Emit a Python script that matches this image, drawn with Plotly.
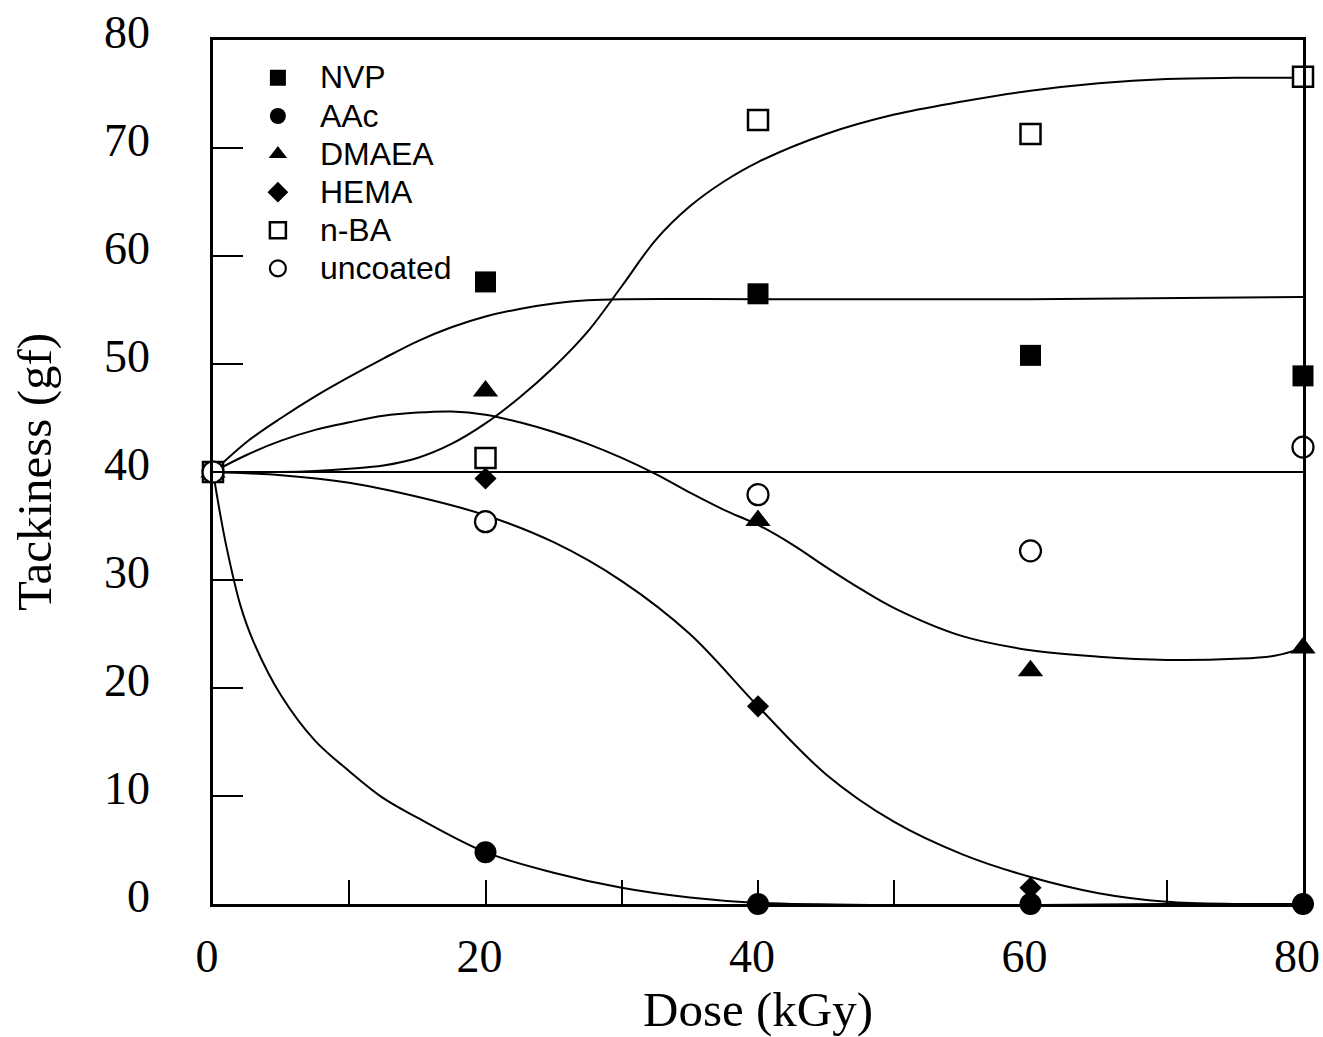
import plotly.graph_objects as go

# ---- measured data points ----
dose = [0, 20, 40, 60, 80]
nvp = [40, 57.6, 56.5, 50.8, 48.9]
aac = [40, 4.8, 0, 0, 0]
dmaea = [40, 47.5, 35.5, 21.6, 23.7]
hema = [40, 39.4, 18.3, 1.5, 0]
nba = [40, 41.3, 72.6, 71.3, 76.6]
uncoated = [40, 35.4, 37.9, 32.7, 42.3]

# ---- fitted curves ----
nvp_fit_x = [0, 2.5, 5, 7.5, 10, 12.5, 15, 17.5, 20, 22.5, 25, 27.5, 30, 40, 60, 80]
nvp_fit_y = [40, 42.8, 45.0, 47.0, 48.8, 50.5, 52.1, 53.4, 54.4, 55.1, 55.6, 55.9, 56.0, 56.0, 56.0, 56.2]

nba_fit_x = [0, 5, 7.5, 10, 12.5, 15, 17.5, 20, 22.5, 25, 27.5, 30, 32.5, 35, 37.5, 40, 45, 50, 55, 60, 65, 70, 75, 80]
nba_fit_y = [40, 40.0, 40.1, 40.3, 40.6, 41.3, 42.6, 44.5, 46.9, 49.7, 53.0, 57.2, 61.5, 64.6, 66.9, 68.7, 71.3, 73.1, 74.3, 75.3, 76.0, 76.4, 76.5, 76.5]

dmaea_fit_x = [0, 2.5, 5, 7.5, 10, 12.5, 15, 17.5, 20, 22.5, 25, 27.5, 30, 32.5, 35, 37.5, 40, 42.5, 45, 47.5, 50, 55, 60, 65, 70, 75, 78, 80]
dmaea_fit_y = [40, 41.6, 42.9, 43.9, 44.6, 45.2, 45.5, 45.6, 45.3, 44.6, 43.7, 42.6, 41.3, 39.8, 38.1, 36.5, 35.1, 33.3, 31.2, 29.2, 27.4, 24.8, 23.5, 22.9, 22.6, 22.7, 23.0, 23.7]

unc_fit_x = [0, 80]
unc_fit_y = [40, 40]

hema_fit_x = [0, 5, 10, 15, 20, 25, 30, 35, 40, 45, 50, 55, 60, 65, 70, 75, 80]
hema_fit_y = [40, 39.7, 39.0, 37.7, 36.0, 33.5, 29.9, 25.0, 18.3, 12.0, 7.6, 4.6, 2.5, 1.0, 0.2, 0, 0]

aac_fit_x = [0, 0.5, 1, 2, 3, 5, 7.5, 10, 12.5, 15, 20, 25, 30, 35, 40, 50, 60, 70, 80]
aac_fit_y = [40, 36.3, 33.0, 27.7, 24.2, 19.3, 15.1, 12.3, 9.8, 8.0, 4.8, 2.9, 1.5, 0.6, 0.1, -0.1, -0.1, 0, 0]

names = ["NVP", "AAc", "DMAEA", "HEMA", "n-BA", "uncoated"]
x_ticks = [0, 20, 40, 60, 80]
y_ticks = [0, 10, 20, 30, 40, 50, 60, 70, 80]

fig = go.Figure()

line_style = dict(color="black", width=2, shape="spline", smoothing=1.0)
for fx, fy in [(nvp_fit_x, nvp_fit_y), (nba_fit_x, nba_fit_y), (dmaea_fit_x, dmaea_fit_y),
               (unc_fit_x, unc_fit_y), (hema_fit_x, hema_fit_y), (aac_fit_x, aac_fit_y)]:
    fig.add_trace(go.Scatter(x=fx, y=fy, mode="lines", line=line_style,
                             showlegend=False, hoverinfo="skip"))

series = [
    (nvp, dict(symbol="square", size=21, color="black", line=dict(width=0))),
    (aac, dict(symbol="circle", size=22, color="black", line=dict(width=0))),
    (dmaea, dict(symbol="triangle-up", size=22, color="black", line=dict(width=0))),
    (hema, dict(symbol="diamond", size=17, color="black", line=dict(width=0))),
    (nba, dict(symbol="square", size=20, color="white", line=dict(width=2.5, color="black"))),
    (uncoated, dict(symbol="circle", size=21, color="white", line=dict(width=2.2, color="black"))),
]
for name, (vals, mk) in zip(names, series):
    fig.add_trace(go.Scatter(
        x=dose, y=vals, mode="markers", marker=mk, cliponaxis=False,
        name=f"<span style='font-size:32px'>{name}</span>"))

serif = "Liberation Serif, Times New Roman, serif"
fig.update_layout(
    width=1323, height=1037,
    margin=dict(l=213, r=20, t=40, b=133),
    paper_bgcolor="white", plot_bgcolor="white",
    font=dict(family=serif, color="black", size=46),
    legend=dict(x=0.021, y=0.984, xanchor="left", yanchor="top",
                font=dict(family="Liberation Sans, Arial, sans-serif", size=27, color="black"),
                itemwidth=74, bgcolor="rgba(0,0,0,0)", traceorder="normal"),
    xaxis=dict(range=[0, 80], tickvals=x_ticks, ticks="inside", ticklen=24, tickwidth=2,
               tickcolor="black", showline=True, mirror=True, linewidth=2.5, linecolor="black",
               showgrid=False, zeroline=False, tickfont=dict(family=serif, size=46),
               ticklabelstandoff=10, ticklabelshift=-6, automargin=False,
               minor=dict(dtick=10, ticks="inside", ticklen=24, tickwidth=2, tickcolor="black", showgrid=False),
               title=dict(text="Dose (kGy)", font=dict(family=serif, size=49), standoff=0)),
    yaxis=dict(range=[0, 80], tickvals=y_ticks, ticks="inside", ticklen=30, tickwidth=2,
               tickcolor="black", showline=True, mirror=True, linewidth=2.5, linecolor="black",
               showgrid=False, zeroline=False, tickfont=dict(family=serif, size=46),
               ticklabelstandoff=51, ticklabelshift=-8, automargin=False,
               title=dict(text="Tackiness (gf)", font=dict(family=serif, size=49), standoff=37)),
)

fig.write_html("out.html", config={"displayModeBar": False},
               post_script="document.body.style.margin='0px';")
